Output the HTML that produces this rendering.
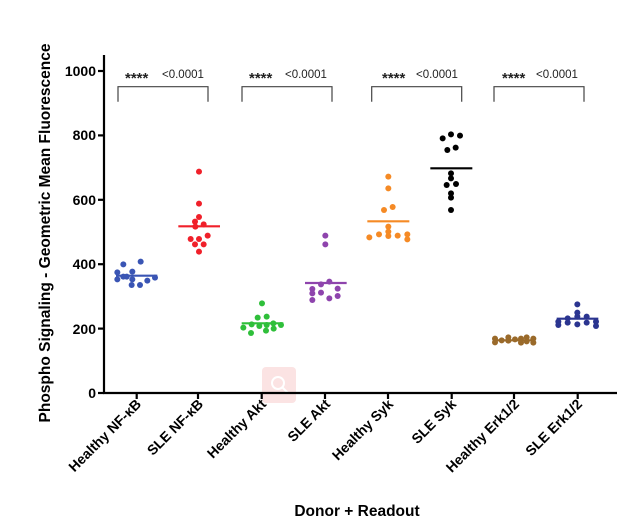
<!DOCTYPE html><html><head><meta charset="utf-8"><style>body{margin:0;background:#fff}svg{display:block}text{font-family:"Liberation Sans",sans-serif}</style></head><body>
<svg width="629" height="527" viewBox="0 0 629 527" xmlns="http://www.w3.org/2000/svg">
<rect x="262" y="367" width="34" height="36" rx="4" fill="#fbe3e3"/>
<circle cx="278" cy="383" r="6" fill="none" stroke="#fff" stroke-width="2"/><line x1="282" y1="387" x2="288" y2="393" stroke="#fff" stroke-width="2"/>
<g stroke="#000" stroke-width="2.2" fill="none">
<line x1="104" y1="55" x2="104" y2="394"/><line x1="103" y1="393" x2="617" y2="393"/>
<line x1="98" y1="393" x2="104" y2="393"/><line x1="98" y1="328.6" x2="104" y2="328.6"/><line x1="98" y1="264.2" x2="104" y2="264.2"/><line x1="98" y1="199.8" x2="104" y2="199.8"/><line x1="98" y1="135.4" x2="104" y2="135.4"/><line x1="98" y1="71" x2="104" y2="71"/>
<line x1="136.7" y1="393" x2="136.7" y2="399"/><line x1="198" y1="393" x2="198" y2="399"/><line x1="261.7" y1="393" x2="261.7" y2="399"/><line x1="325" y1="393" x2="325" y2="399"/><line x1="388" y1="393" x2="388" y2="399"/><line x1="451.7" y1="393" x2="451.7" y2="399"/><line x1="514" y1="393" x2="514" y2="399"/><line x1="577.7" y1="393" x2="577.7" y2="399"/>
</g>
<g font-size="14" font-weight="bold" text-anchor="end">
<text x="96" y="398">0</text><text x="96" y="334">200</text><text x="96" y="269">400</text><text x="96" y="205">600</text><text x="96" y="140">800</text><text x="96" y="76">1000</text>
</g>
<text transform="translate(50,233) rotate(-90)" font-size="15.5" font-weight="bold" text-anchor="middle">Phospho Signaling - Geometric Mean Fluorescence</text>
<text x="357" y="516" font-size="15.5" font-weight="bold" text-anchor="middle">Donor + Readout</text>
<g font-size="14" font-weight="bold" text-anchor="end">
<text transform="translate(142,405) rotate(-45)">Healthy NF-κB</text>
<text transform="translate(204,405) rotate(-45)">SLE NF-κB</text>
<text transform="translate(267,405) rotate(-45)">Healthy Akt</text>
<text transform="translate(331,405) rotate(-45)">SLE Akt</text>
<text transform="translate(394,405) rotate(-45)">Healthy Syk</text>
<text transform="translate(457,405) rotate(-45)">SLE Syk</text>
<text transform="translate(520,405) rotate(-45)">Healthy Erk1/2</text>
<text transform="translate(583,405) rotate(-45)">SLE Erk1/2</text>
</g>
<g stroke="#444" stroke-width="1.2" fill="none">
<polyline points="118,101.7 118,86.7 208,86.7 208,101.7"/>
<polyline points="242,101.7 242,86.7 332,86.7 332,101.7"/>
<polyline points="371.7,101.7 371.7,86.7 461.7,86.7 461.7,101.7"/>
<polyline points="494,101.7 494,86.7 584,86.7 584,101.7"/>
</g>
<g font-size="15" font-weight="bold" fill="#222">
<text x="125" y="83">****</text><text x="249" y="83">****</text><text x="382" y="83">****</text><text x="502" y="83">****</text>
</g>
<g font-size="11.5" fill="#222">
<text x="162" y="78">&lt;0.0001</text>
<text x="285" y="78">&lt;0.0001</text>
<text x="416" y="78">&lt;0.0001</text>
<text x="536" y="78">&lt;0.0001</text>
</g>
<g id="pts"></g>
</svg>
<script>
const g=document.getElementById('pts');const NS='http://www.w3.org/2000/svg';
function s(col,ox,oy,pts,line){const[l1,l2,ly]=line;const L=document.createElementNS(NS,'line');
L.setAttribute('x1',ox+l1/3);L.setAttribute('x2',ox+l2/3);L.setAttribute('y1',oy+ly/3);L.setAttribute('y2',oy+ly/3);L.setAttribute('stroke',col);L.setAttribute('stroke-width','2.2');g.appendChild(L);
for(const[x,y]of pts){const c=document.createElementNS(NS,'circle');c.setAttribute('cx',ox+x/3);c.setAttribute('cy',oy+y/3);c.setAttribute('r','3');c.setAttribute('fill',col);g.appendChild(c);}}
s('#3a55b4',90,50,[[82,667],[82,688],[100,643],[100,680],[127,665],[127,688],[152,635],[125,705],[150,705],[172,692],[195,683],[110,680]],[78,202,677]);
s('#f0202a',90,50,[[327,365],[327,461],[327,501],[315,515],[341,523],[316,530],[302,567],[327,567],[353,557],[341,583],[315,583],[327,605]],[265,390,529]);
s('#2fbf3a',90,50,[[516,760],[503,803],[530,800],[460,833],[485,823],[508,828],[530,825],[550,820],[573,825],[483,849],[528,842],[551,836]],[455,580,820]);
s('#8e44ad',90,50,[[706,557],[706,583],[693,703],[718,695],[667,717],[667,730],[693,728],[743,716],[667,750],[718,745],[743,738]],[645,770,699]);
s('#f58a25',350,50,[[115,380],[115,415],[102,480],[128,471],[115,530],[115,545],[58,562],[87,553],[115,558],[143,557],[172,553],[172,568]],[52,178,514]);
s('#000',350,50,[[278,265],[303,253],[330,257],[292,300],[317,293],[303,370],[303,385],[290,405],[318,402],[303,430],[303,443],[303,480]],[241,367,355]);
s('#9a6a2a',350,50,[[435,866],[435,877],[455,871],[475,862],[475,872],[495,868],[513,878],[513,866],[530,862],[530,874],[550,866],[550,878]],[430,556,871]);
s('#2b3590',350,50,[[682,763],[682,788],[625,815],[625,825],[653,805],[653,818],[682,800],[682,823],[710,800],[710,818],[738,815],[738,828]],[620,745,806]);
</script>
</body></html>
